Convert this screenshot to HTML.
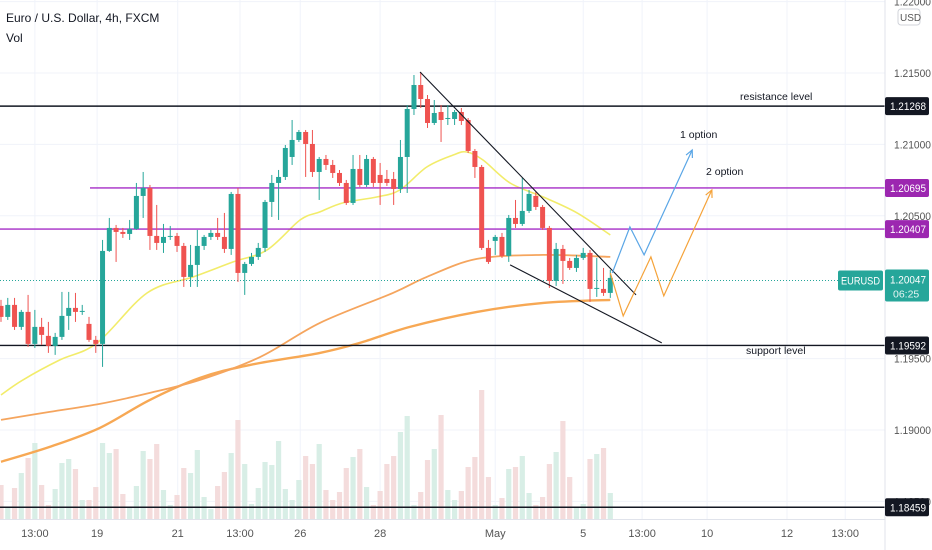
<!DOCTYPE html>
<html><head><meta charset="utf-8"><style>
html,body{margin:0;padding:0;background:#fff;width:932px;height:550px;overflow:hidden}
svg{display:block;font-family:"Liberation Sans",sans-serif}
</style></head><body>
<svg id="c" width="932" height="550" viewBox="0 0 932 550"></svg>
<script>
const opens=[1.19869,1.19792,1.19876,1.19722,1.19827,1.19603,1.19722,1.19659,1.19589,1.19652,1.19799,1.19855,1.19827,1.19743,1.19631,1.19603,1.20254,1.20415,1.20387,1.20373,1.20408,1.20639,1.20695,1.20359,1.20310,1.20352,1.20359,1.20289,1.20072,1.20156,1.20289,1.20352,1.20380,1.20352,1.20268,1.20653,1.20100,1.20163,1.20212,1.20275,1.20597,1.20730,1.20772,1.20912,1.21031,1.21087,1.21003,1.20807,1.20898,1.20856,1.20800,1.20730,1.20590,1.20828,1.20716,1.20898,1.20786,1.20758,1.20758,1.20688,1.20912,1.21248,1.21416,1.21318,1.21150,1.21227,1.21178,1.21178,1.21227,1.21171,1.20954,1.20842,1.20275,1.20324,1.20352,1.20219,1.20485,1.20443,1.20534,1.20639,1.20562,1.20415,1.20044,1.20268,1.20184,1.20135,1.20205,1.20240,1.19988,1.19988,1.19960];
const closes=[1.19792,1.19876,1.19722,1.19827,1.19603,1.19722,1.19666,1.19589,1.19652,1.19799,1.19855,1.19827,1.19834,1.19631,1.19603,1.20254,1.20415,1.20387,1.20373,1.20408,1.20639,1.20695,1.20359,1.20310,1.20352,1.20359,1.20289,1.20072,1.20156,1.20289,1.20352,1.20380,1.20352,1.20268,1.20653,1.20100,1.20163,1.20212,1.20275,1.20597,1.20730,1.20772,1.20975,1.21031,1.21087,1.21003,1.20807,1.20898,1.20856,1.20800,1.20730,1.20590,1.20828,1.20716,1.20898,1.20730,1.20730,1.20730,1.20688,1.20912,1.21248,1.21416,1.21318,1.21150,1.21220,1.21171,1.21185,1.21227,1.21164,1.20954,1.20842,1.20275,1.20177,1.20352,1.20219,1.20485,1.20443,1.20534,1.20653,1.20562,1.20415,1.20044,1.20268,1.20184,1.20135,1.20205,1.20240,1.19988,1.19995,1.19960,1.20065];
const highs=[1.19911,1.19925,1.19925,1.19841,1.19946,1.19841,1.19785,1.19757,1.19680,1.19967,1.19967,1.19960,1.19876,1.19792,1.19659,1.20331,1.20485,1.20436,1.20415,1.20471,1.20730,1.20807,1.20716,1.20576,1.20443,1.20429,1.20380,1.20310,1.20296,1.20401,1.20366,1.20401,1.20485,1.20520,1.20667,1.20695,1.20177,1.20240,1.20310,1.20611,1.20786,1.20821,1.20996,1.21171,1.21101,1.21101,1.21101,1.20912,1.20926,1.20891,1.20821,1.20751,1.20926,1.20926,1.20926,1.20912,1.20870,1.20821,1.20807,1.21031,1.21276,1.21486,1.21507,1.21346,1.21311,1.21276,1.21276,1.21241,1.21255,1.21185,1.20968,1.20856,1.20331,1.20366,1.20380,1.20506,1.20611,1.20765,1.20681,1.20667,1.20576,1.20429,1.20310,1.20296,1.20205,1.20226,1.20275,1.20261,1.20205,1.20135,1.20121];
const lows=[1.19757,1.19771,1.19701,1.19701,1.19582,1.19575,1.19596,1.19540,1.19526,1.19631,1.19701,1.19757,1.19806,1.19617,1.19540,1.19442,1.20247,1.20177,1.20345,1.20331,1.20401,1.20485,1.20261,1.20261,1.20240,1.20331,1.20247,1.20002,1.20002,1.20002,1.20261,1.20331,1.20331,1.20240,1.20226,1.20037,1.19946,1.20149,1.20191,1.20247,1.20492,1.20471,1.20751,1.20856,1.21017,1.20772,1.20772,1.20611,1.20821,1.20765,1.20709,1.20576,1.20576,1.20702,1.20702,1.20702,1.20576,1.20709,1.20576,1.20660,1.20660,1.21206,1.21255,1.21115,1.21136,1.21017,1.21136,1.21136,1.21136,1.20940,1.20765,1.20261,1.20163,1.20226,1.20205,1.20177,1.20415,1.20429,1.20520,1.20541,1.20401,1.19995,1.20009,1.20023,1.20121,1.20107,1.20191,1.19897,1.19932,1.19939,1.19925];
const volumes=[34,12,31,46,61,76,34,14,30,56,60,50,19,19,32,76,66,70,25,12,33,68,60,75,29,14,24,51,46,69,22,10,33,47,66,99,55,15,31,57,54,78,30,19,39,63,55,75,29,19,27,51,62,70,32,14,28,55,63,87,103,14,27,59,70,104,29,19,28,52,62,129,42,14,21,50,52,63,26,14,22,55,67,98,42,12,15,60,65,71,26];
const ma20Idx=[0,3.25,8.7,14.2,21.6,28.4,34.3,39.3,44.2,47.1,50.5,55.5,58.9,62.9,66.8,68.8,71.2,75.2,80.1,85.1,90];
const ma20Val=[1.19246,1.19351,1.19491,1.19610,1.19960,1.20072,1.20177,1.20261,1.20471,1.20527,1.20590,1.20632,1.20681,1.20842,1.20926,1.20947,1.20891,1.20730,1.20632,1.20520,1.20366];
const ma50Idx=[0,7.2,14.6,22,29.4,38.3,47.1,57.9,62.9,70.3,80.1,90];
const ma50Val=[1.19071,1.19127,1.19183,1.19260,1.19351,1.19512,1.19750,1.19960,1.20072,1.20198,1.20226,1.20212];
const ma100Idx=[0,7.2,14.6,22,29.4,36.8,47.1,53,60.4,70.3,80.1,90];
const ma100Val=[1.18777,1.18882,1.19015,1.19211,1.19365,1.19456,1.19540,1.19610,1.19722,1.19827,1.19890,1.19911];
const opt1Idx=[90.3,92.9,95,102.1], opt1Val=[1.20100,1.20422,1.20226,1.20961];
const opt2Idx=[90,91.9,96,97.9,105], opt2Val=[1.20100,1.19799,1.20212,1.19939,1.20681];
const trendUpperIdx=[61.9,93.8], trendUpperVal=[1.21507,1.19946];
const trendLowerIdx=[75.2,97.6], trendLowerVal=[1.20156,1.19610];
const yTicks=[1.22,1.215,1.21,1.205,1.195,1.19,1.185];
const yTickLabels=["1.22000","1.21500","1.21000","1.20500","1.19500","1.19000","1.18500"];
const xTickIdx=[5,14.2,26.1,35.3,44.2,56,73,86,94.7,104.3,116.1,124.7];
const xTickLabels=["13:00","19","21","13:00","26","28","May","5","13:00","10","12","13:00"];
const levelVals=[1.21268,1.20695,1.20407,1.19592,1.18459];
const levelNames=["resistance-level","upper-purple-level","lower-purple-level","support-level","bottom-level"];
const lastPrice=1.20047;

const NS="http://www.w3.org/2000/svg";
const svg=document.getElementById('c');
const PW=885;
function y(p){return 73+(1.215-p)*14280;}
function x(i){return 1+i*6.77;}
function vy(v){return 519-v;}
function el(tag,attrs,parent){const e=document.createElementNS(NS,tag);for(const k in attrs)e.setAttribute(k,attrs[k]);(parent||svg).appendChild(e);return e;}

const grid=el('g',{});


yTicks.forEach(t=>{el('line',{x1:0,x2:PW,y1:y(t),y2:y(t),stroke:'#f0f3fa','stroke-width':1},grid);});
xTickIdx.forEach(t=>{el('line',{x1:x(t),x2:x(t),y1:0,y2:519,stroke:'#f0f3fa','stroke-width':1},grid);});

const vg=el('g',{});


volumes.forEach((v,i)=>{
 const up=closes[i]>=opens[i];
 const r=el('rect',{x:x(i)-2.6,y:vy(v),width:5.2,height:v,fill:up?'#d8eee6':'#f4dcdc'},vg);
 
 
});

// smooth path through points (Catmull-Rom)
function path(idx,val){
 const P=idx.map((t,k)=>[x(t),y(val[k])]);
 let d='M'+P[0][0].toFixed(1)+' '+P[0][1].toFixed(1);
 for(let k=0;k<P.length-1;k++){
  const p0=P[k-1]||P[k],p1=P[k],p2=P[k+1],p3=P[k+2]||P[k+1];
  const c1=[p1[0]+(p2[0]-p0[0])/6,p1[1]+(p2[1]-p0[1])/6],c2=[p2[0]-(p3[0]-p1[0])/6,p2[1]-(p3[1]-p1[1])/6];
  d+=' C'+c1[0].toFixed(1)+' '+c1[1].toFixed(1)+' '+c2[0].toFixed(1)+' '+c2[1].toFixed(1)+' '+p2[0].toFixed(1)+' '+p2[1].toFixed(1);
 }
 return d;
}
function poly(idx,val){return idx.map((t,k)=>(k?'L':'M')+x(t).toFixed(1)+' '+y(val[k]).toFixed(1)).join(' ');}
const m100=el('path',{d:path(ma100Idx,ma100Val),fill:'none',stroke:'#f7a854','stroke-width':2.4,'stroke-linejoin':'round'});


const m50=el('path',{d:path(ma50Idx,ma50Val),fill:'none',stroke:'#f5a55e','stroke-width':1.8,'stroke-linejoin':'round'});


const m20=el('path',{d:path(ma20Idx,ma20Val),fill:'none',stroke:'#f2ec6a','stroke-width':1.6,'stroke-linejoin':'round'});



const lvlStarts=[0,90,0,0,0];
const lvlColors=['#131722','#a52cc6','#a52cc6','#131722','#131722'];
levelVals.forEach((v,k)=>{
 const l=el('line',{x1:lvlStarts[k],x2:PW,y1:y(v),y2:y(v),stroke:lvlColors[k],'stroke-width':1.4});
 
 
});
const lp=el('line',{x1:0,x2:PW,y1:y(lastPrice),y2:y(lastPrice),stroke:'#26a69a','stroke-width':1,'stroke-dasharray':'1 2'});



const cg=el('g',{});


opens.forEach((o,i)=>{
 const c=closes[i],up=c>=o,col=up?'#26a69a':'#ef5350';
 const g=el('g',{},cg);
 
 
 el('line',{x1:x(i),x2:x(i),y1:y(highs[i]),y2:y(lows[i]),stroke:col,'stroke-width':1},g);
 const top=y(Math.max(o,c)),h=Math.max(1,Math.abs(y(o)-y(c)));
 el('rect',{x:x(i)-2.5,y:top,width:5,height:h,fill:col},g);
});

function seg(idx,val,name){const l=el('line',{x1:x(idx[0]),y1:y(val[0]),x2:x(idx[1]),y2:y(val[1]),stroke:'#131722','stroke-width':1.1});}
seg(trendUpperIdx,trendUpperVal,'upper-trend-line');
seg(trendLowerIdx,trendLowerVal,'lower-trend-line');

function proj(idx,val,col,name){
 const p=el('path',{d:poly(idx,val),fill:'none',stroke:col,'stroke-width':1.2});
 
 
 const n=idx.length,x1=x(idx[n-2]),y1=y(val[n-2]),x2=x(idx[n-1]),y2=y(val[n-1]);
 const a=Math.atan2(y2-y1,x2-x1),L=8;
 const d='M'+(x2-L*Math.cos(a-0.45))+' '+(y2-L*Math.sin(a-0.45))+' L'+x2+' '+y2+' L'+(x2-L*Math.cos(a+0.45))+' '+(y2-L*Math.sin(a+0.45));
 const h=el('path',{d:d,fill:'none',stroke:col,'stroke-width':1.2});
 
 
}
proj(opt1Idx,opt1Val,'#5aa6e6','option-1-path');
proj(opt2Idx,opt2Val,'#f5a33a','option-2-path');

function txt(s,xx,yy,attrs,name,inter){const t=el('text',Object.assign({x:xx,y:yy,'font-size':11,fill:'#131722'},attrs||{}));t.textContent=s;return t;}
txt('resistance level',740,100,{'font-size':10.5},'resistance-label');
txt('support level',746,354,{'font-size':10.5},'support-label');
txt('1 option',680,138,{'font-size':10.5},'option-1-label');
txt('2 option',706,175,{'font-size':10.5},'option-2-label');
txt('Euro / U.S. Dollar, 4h, FXCM',6,22,{'font-size':12},'symbol-title');
txt('Vol',6,42,{'font-size':12},'volume-legend');

const ax=el('rect',{x:PW,y:0,width:47,height:550,fill:'#fff'});


el('line',{x1:PW,x2:PW,y1:0,y2:550,stroke:'#e0e3eb','stroke-width':1});
el('line',{x1:0,x2:PW,y1:519.5,y2:519.5,stroke:'#e0e3eb','stroke-width':1});
yTicks.forEach((t,k)=>{txt(yTickLabels[k],894,y(t)+4,{'font-size':11,fill:'#555',textLength:37,lengthAdjust:'spacingAndGlyphs'},'y-tick-label');});
const usd=el('rect',{x:898,y:9,width:22,height:16,rx:3,fill:'#fff',stroke:'#d0d3da'});


txt('USD',900,21,{'font-size':10,fill:'#555'},'currency-label',true);
const tagCols=['#131722','#9c27b0','#9c27b0','#131722','#131722'];
levelVals.forEach((v,k)=>{
 const r=el('rect',{x:885,y:y(v)-9,width:44,height:18,rx:2,fill:tagCols[k]});
 
 
 txt(v.toFixed(5),890,y(v)+4,{'font-size':11,fill:'#fff',textLength:36,lengthAdjust:'spacingAndGlyphs'},levelNames[k]+'-price-text');
});
const lt=el('rect',{x:885,y:y(lastPrice)-11,width:44,height:32,rx:2,fill:'#26a69a'});


txt(lastPrice.toFixed(5),890,y(lastPrice)+3,{'font-size':11,fill:'#fff',textLength:36,lengthAdjust:'spacingAndGlyphs'},'last-price-text');
txt('06:25',893,y(lastPrice)+17,{'font-size':10.5,fill:'#e6f5f3'},'countdown-text');
const sl=el('rect',{x:838,y:y(lastPrice)-10,width:45,height:20,rx:2,fill:'#26a69a'});


txt('EURUSD',841,y(lastPrice)+4,{'font-size':11,fill:'#fff',textLength:39,lengthAdjust:'spacingAndGlyphs'},'symbol-tag-text');

xTickIdx.forEach((t,k)=>{txt(xTickLabels[k],x(t),537,{'font-size':11,fill:'#555','text-anchor':'middle'},'x-tick-label');});
</script>
</body></html>
